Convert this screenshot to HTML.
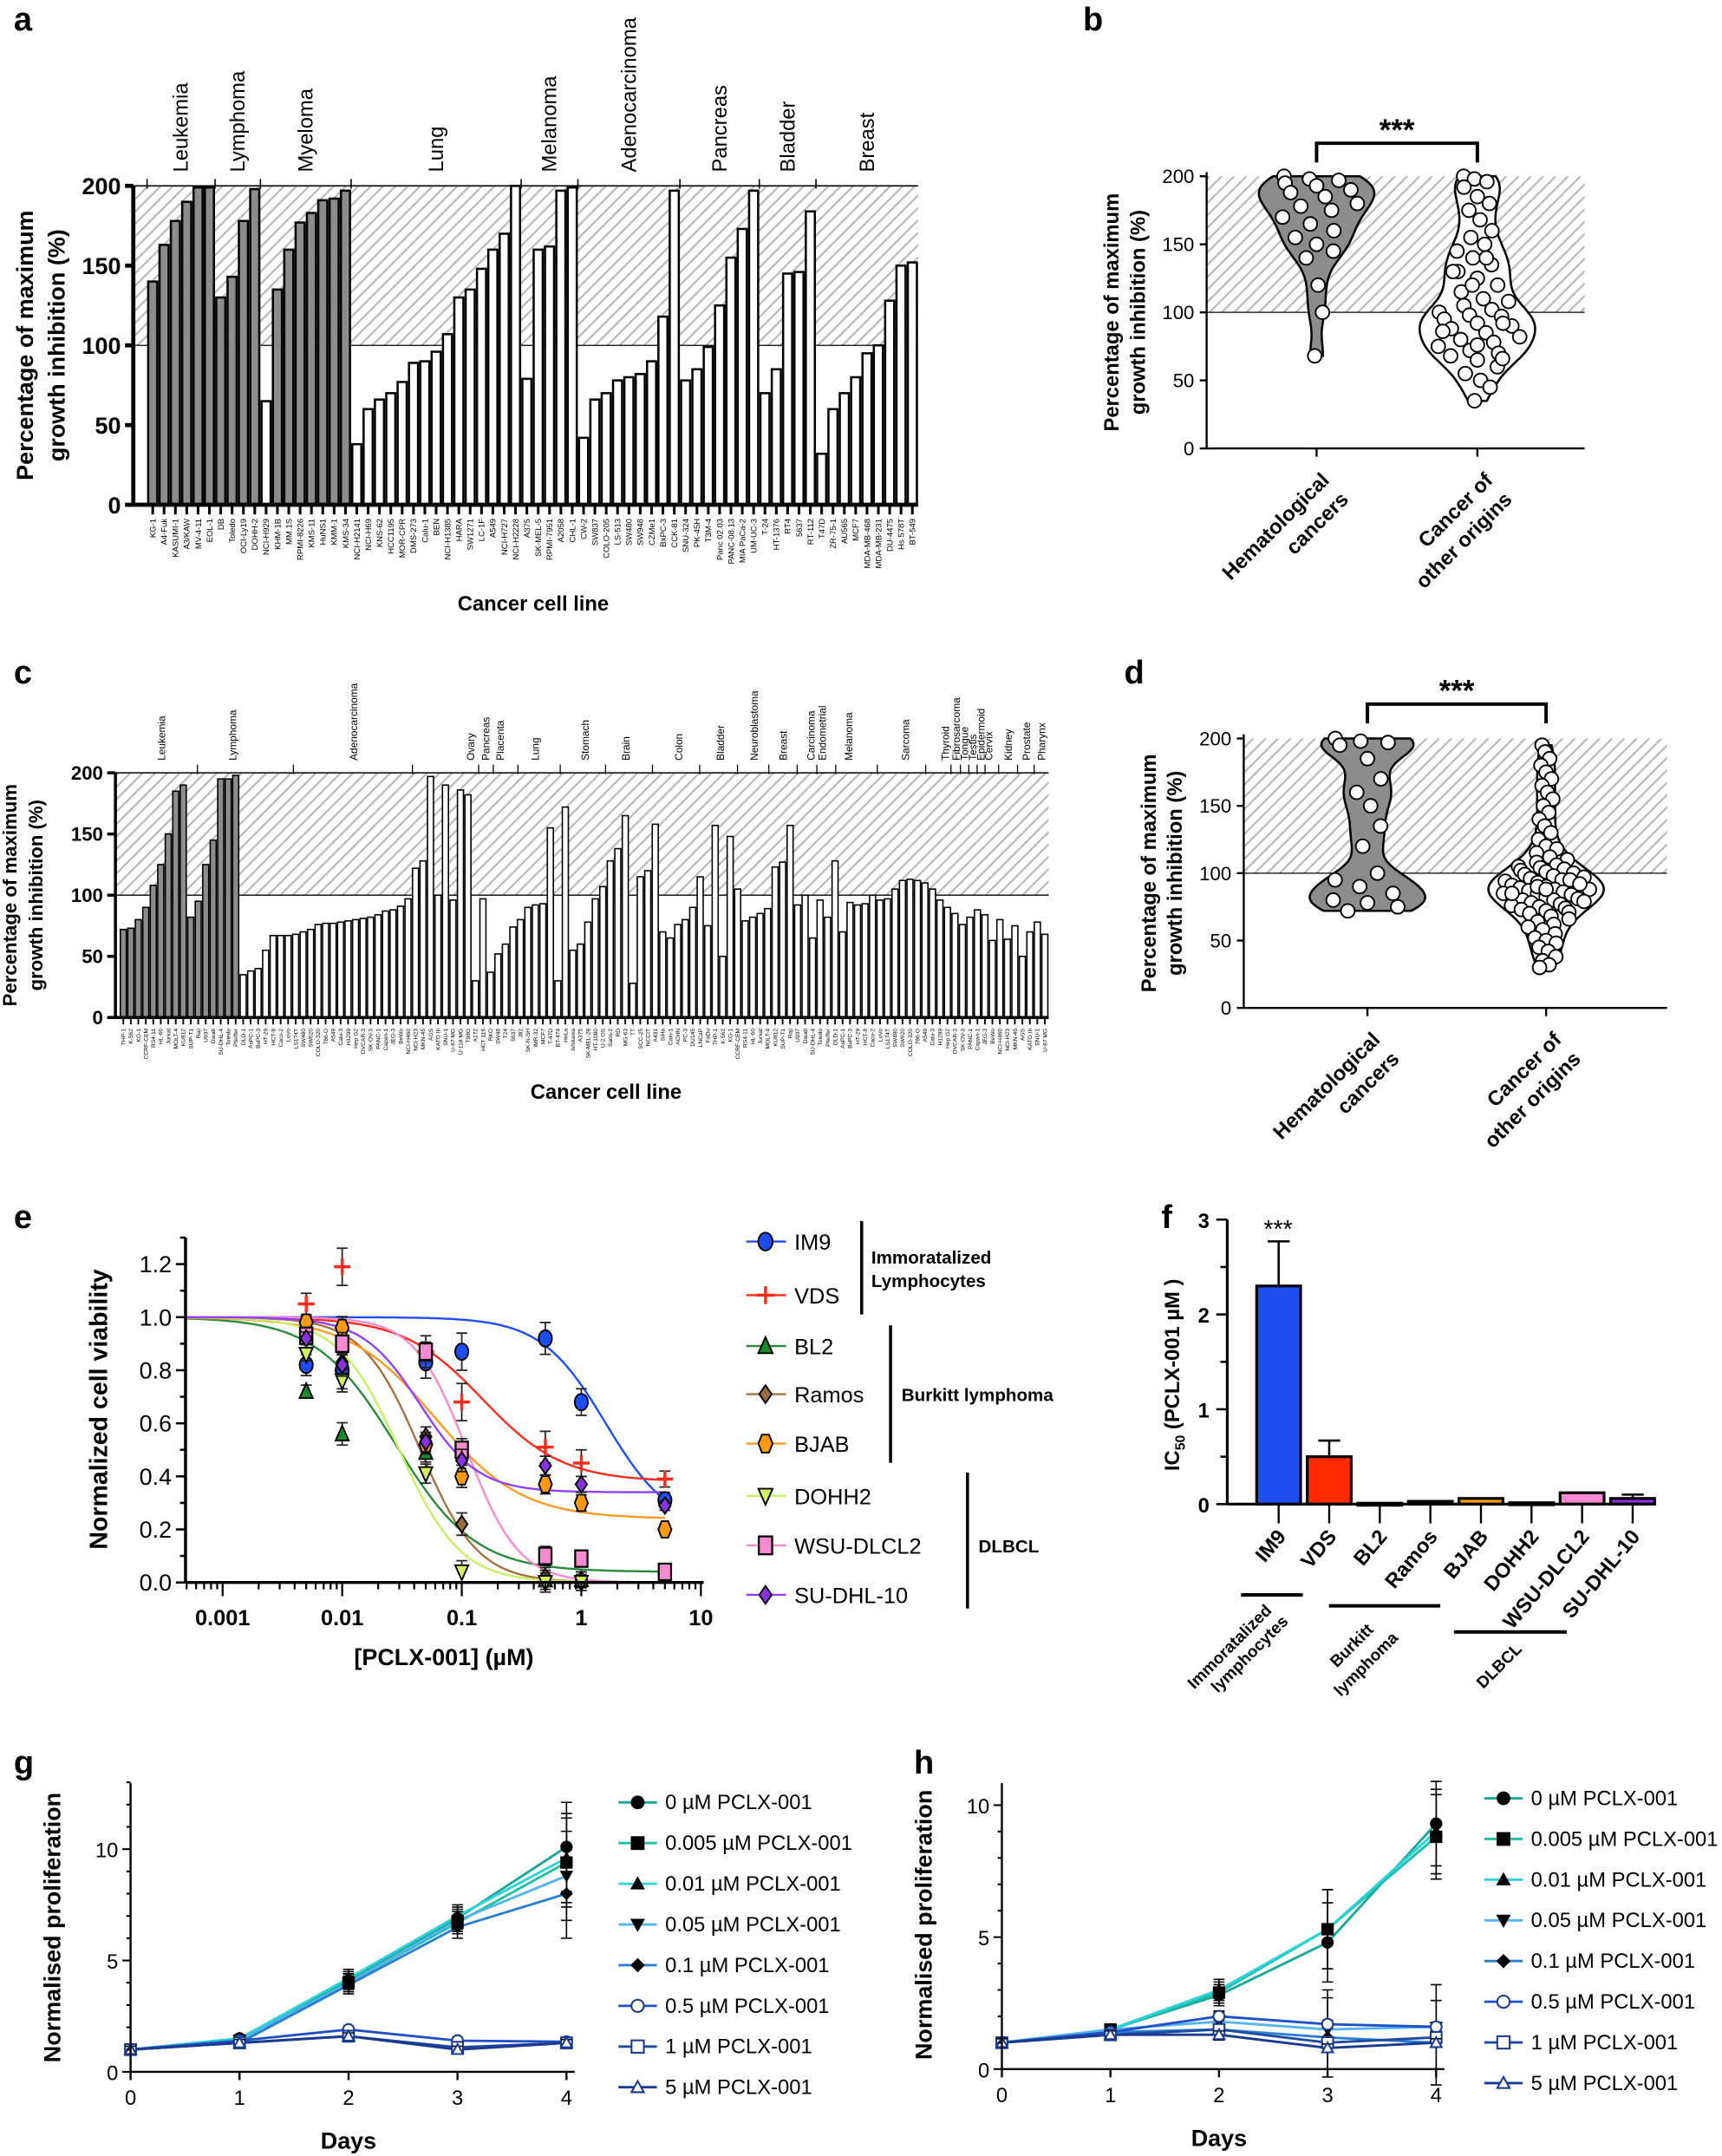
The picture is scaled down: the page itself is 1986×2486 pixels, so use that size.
<!DOCTYPE html>
<html><head><meta charset="utf-8"><style>
html,body{margin:0;padding:0;background:#fff}
svg{display:block}
text{font-family:"Liberation Sans",Arial,sans-serif;fill:#000}
</style></head><body>
<svg id="fig" xmlns="http://www.w3.org/2000/svg" width="1986" height="2486" viewBox="0 0 1253 1568">
<defs><pattern id="hatch" patternUnits="userSpaceOnUse" width="9" height="9"><path d="M-1,10 L10,-1 M-2,2 L2,-2 M7,11 L11,7" stroke="#b5b5b5" stroke-width="1.3"/></pattern></defs>
</svg>
<script>
// ---------- Panel a data ----------
const aValues=[140,163,178,190,199,199,130,143,178,198,65,135,160,177,183,191,192,197,
38,60,66,70,77,89,90,96,107,130,135,148,160,170,200,
79,160,162,197,199,
42,66,70,78,80,82,90,118,197,
78,85,99,125,155,173,197,
70,85,145,146,184,
32,60,70,80,95,100,128,150,152];
const aHema=[1,1,1,1,1,1,1,1,1,1,0,1,1,1,1,1,1,1];
const aNames=["KG-1","A4-Fuk","KASUMI-1","A3/KAW","MV-4-11","EOL-1","DB","Toledo","OCI-Ly19","DOHH-2","NCI-H929","KHM-1B","MM.1S","RPMI-8226","KMS-11","HuNS1","KMM-1","KMS-34","NCI-H2141","NCI-H69","KNS-62","HCC1195","MOR-CPR","DMS-273","Calu-1","BEN","NCI-H1385","HARA","SW1271","LC-1F","A549","NCI-H727","NCI-H2228","A375","SK-MEL-5","RPMI-7951","A2058","CHL-1","CW-2","SW837","COLO-205","LS-513","SW480","SW948","CZMe1","BxPC-3","CCK-81","SNU-324","PK-45H","T3M-4","Panc 02.03","PANC-08.13","MIA PaCa-2","UM-UC-3","T-24","HT-1376","RT4","5637","RT-112","T47D","ZR-75-1","AU565","MCF7","MDA-MB-468","MDA-MB-231","DU-4475","Hs 578T","BT-549"];
const aGroups=["Leukemia","Lymphoma","Myeloma","Lung","Melanoma","Adenocarcinoma","Pancreas","Bladder","Breast"];
const aGroupSizes=[6,4,8,15,5,9,7,5,9];
// ---------- Panel b data ----------
const bHema=[200,198,197,195,193,190,188,185,180,178,175,170,165,160,155,150,145,140,120,100,68];
const bOther=[200,198,196,192,185,180,175,168,160,155,150,145,140,135,130,125,120,115,110,108,105,102,100,98,97,95,92,90,88,85,82,80,78,75,72,70,68,65,60,55,50,45,35,140,130,120,92,86,76,66];
// ---------- Panel c data ----------
const cValues=[72,73,80,90,108,125,150,185,190,82,95,125,145,195,195,198,
35,38,40,55,67,67,67,68,70,72,76,77,77,78,79,80,81,82,84,87,88,91,97,122,128,197,100,190,96,186,182,30,97,37,52,60,74,80,90,92,93,155,30,172,55,60,78,97,107,128,138,165,28,115,120,158,70,65,76,80,90,115,75,157,50,148,105,79,82,85,89,123,127,157,92,100,65,96,82,128,70,94,92,93,100,96,97,105,112,113,112,110,105,96,90,85,76,82,88,84,63,80,64,75,50,70,78,68];
const cHemaCount=16;
const cGroups=["Leukemia","Lymphoma","Adenocarcinoma","Ovary","Pancreas","Placenta","Lung","Stomach","Brain","Colon","Bladder","Neuroblastoma","Breast","Carcinoma","Endometrial","Melanoma","Sarcoma","Thyroid","Fibrosarcoma","Tongue","Testis","Epidermoid","Cervix","Kidney","Prostate","Pharynx"];
const cGroupCenter=[5.6,15,31,46.5,48.5,50.4,55,61.6,67,74,79.5,84,87.8,91.5,93,96.5,104,109.3,110.7,111.8,112.9,114,115,117.6,120,122];
// ---------- Panel d data ----------
const dHema=[200,198,197,195,185,170,160,150,135,120,100,95,90,85,80,78,75,72];
const dOther=[195,190,185,180,175,170,165,160,155,150,145,140,135,130,125,120,118,115,112,110,108,106,105,104,103,102,101,100,99,98,97,96,95,94,93,92,91,90,90,89,88,88,87,86,85,85,84,83,82,81,80,80,79,78,77,76,75,74,73,72,71,70,68,66,64,62,60,58,55,52,50,48,45,42,38,35,32,30,90,95,85,88,92];
// ---------- Panel e data ----------
const eDoses=[0.005,0.01,0.05,0.1,0.5,1,5];
const eNames=["IM9","VDS","BL2","Ramos","BJAB","DOHH2","WSU-DLCL2","SU-DHL-10"];
const eIM9=[0.82,0.80,0.83,0.87,0.92,0.68,0.31];
const eVDS=[1.05,1.19,0.87,0.68,0.51,0.45,0.39];
const eBL2=[0.72,0.56,0.49,null,0.01,0.01,null];
const eRamos=[0.93,0.83,0.55,0.22,0.02,0.01,null];
const eBJAB=[0.98,0.96,0.52,0.40,0.37,0.30,0.20];
const eDOHH2=[0.86,0.76,0.41,0.04,0.0,0.0,null];
const eWSU=[0.93,0.90,0.87,0.50,0.10,0.09,0.04];
const eSUDHL=[0.92,0.82,0.53,0.46,0.44,0.37,0.29];
const eErr=[0.04,0.07,0.06,0.07,0.06,0.05,0.03];
const eIC50=[1.6,0.15,0.028,0.045,0.06,0.03,0.11,0.045];
const eBottom=[0.2,0.38,0.04,0,0.24,0,0,0.34];
const eHill=[1.6,1.3,1.3,1.8,1.2,1.7,2.0,1.8];
// ---------- Panel f data ----------
const fNames=["IM9","VDS","BL2","Ramos","BJAB","DOHH2","WSU-DLCL2","SU-DHL-10"];
const fValues=[2.3,0.5,0.01,0.03,0.06,0.015,0.12,0.06];
const fErrors=[0.47,0.17,0.005,0.01,0.02,0.005,0.02,0.04];
// ---------- Panel g/h data ----------
const days=[0,1,2,3,4];
const doseLabels=["0 µM PCLX-001","0.005 µM PCLX-001","0.01 µM PCLX-001","0.05 µM PCLX-001","0.1 µM PCLX-001","0.5 µM PCLX-001","1 µM PCLX-001","5 µM PCLX-001"];
const g0=[1,1.5,4.1,6.9,10.1],g1=[1,1.4,4.0,6.7,9.4],g2=[1,1.5,4.2,7.0,9.6],g3=[1,1.4,4.0,6.8,8.8],g4=[1,1.3,3.9,6.5,8.0],g5=[1,1.4,1.9,1.4,1.35],g6=[1,1.3,1.6,1.1,1.3],g7=[1,1.3,1.6,1.0,1.3];
const gErr=[0,0.15,0.4,0.5,2.0];
const h0=[1,1.5,2.8,4.8,9.3],h1=[1,1.5,2.9,5.3,8.8],h2=[1,1.5,3.0,5.3,9.0],h3=[1,1.5,1.8,1.5,1.6],h4=[1,1.4,1.5,1.2,1.0],h5=[1,1.4,2.0,1.7,1.6],h6=[1,1.3,1.5,1.0,1.2],h7=[1,1.3,1.3,0.8,1.0];
const hErr=[0,0.15,0.4,1.5,1.6];

const NS='http://www.w3.org/2000/svg';
const svg=document.getElementById('fig');
function el(tag,a,p){const e=document.createElementNS(NS,tag);for(const k in a)e.setAttribute(k,a[k]);(p||svg).appendChild(e);return e;}
function txt(s,x,y,a,p){const t=el('text',Object.assign({x:x,y:y},a||{}),p);t.textContent=s;return t;}
function grp(name){const g=el('g',{});return g;}

[["a",10,22],["b",788,22],["c",10,497],["d",818,497],["e",10,893],["f",845,893],["g",10,1290],["h",665,1290]].forEach(function(L){
 const t=txt(L[0],L[1],L[2],{'font-size':24,'font-weight':'bold'});
 
 
});

function barPanel(name,vals,isHema,names,cfg){
 const g=grp(name);
 const n=vals.length, slot=(cfg.x1-cfg.x0)/n;
 const ys=function(v){return cfg.y0-(cfg.y0-cfg.y200)*v/200;};
 el('rect',{x:cfg.ax,y:ys(200),width:cfg.x1-cfg.ax,height:ys(100)-ys(200),fill:'url(#hatch)'},g);
 el('line',{x1:cfg.ax,x2:cfg.x1,y1:ys(200),y2:ys(200),stroke:'#000','stroke-width':1},g);
 el('line',{x1:cfg.ax,x2:cfg.x1,y1:ys(100),y2:ys(100),stroke:'#000','stroke-width':0.8},g);
 for(let i=0;i<n;i++){
  const x=cfg.x0+i*slot;
  const r=el('rect',{x:x+slot*0.1,y:ys(vals[i]),width:slot*0.8,height:cfg.y0-ys(vals[i]),fill:isHema(i)?'#8c8c8c':'#fff',stroke:'#000','stroke-width':cfg.sw},g);
  
  
  el('line',{x1:x+slot/2,x2:x+slot/2,y1:cfg.y0,y2:cfg.y0+cfg.tick,stroke:'#000','stroke-width':cfg.sw*1.2},g);
  const t=txt(names[i]||'',0,0,{'font-size':cfg.nfs,'text-anchor':'end',transform:'translate('+(x+slot/2+cfg.nfs*0.35)+','+(cfg.y0+cfg.tick+3)+') rotate(-90)'},g);
  
  
 }
 el('line',{x1:cfg.ax,x2:cfg.x1,y1:cfg.y0,y2:cfg.y0,stroke:'#000','stroke-width':cfg.axw},g);
 el('line',{x1:cfg.ax,x2:cfg.ax,y1:cfg.y0,y2:ys(200),stroke:'#000','stroke-width':cfg.axw},g);
 [0,50,100,150,200].forEach(function(v){
  el('line',{x1:cfg.ax-6,x2:cfg.ax,y1:ys(v),y2:ys(v),stroke:'#000','stroke-width':cfg.axw},g);
  const t=txt(String(v),cfg.ax-9,ys(v)+cfg.tfs*0.36,{'font-size':cfg.tfs,'text-anchor':'end','font-weight':'bold'},g);
  
  
 });
 return {g:g,slot:slot,ys:ys};
}

(function(){
 const names=[];for(let i=0;i<aValues.length;i++)names.push(aNames[i]||('Line-'+i));
 const P=barPanel('panel-a-bar-chart',aValues,function(i){return i<aHema.length&&aHema[i]===1;},names,{x0:107,x1:668,ax:97,y0:367,y200:135,sw:1.6,axw:3,tick:7,nfs:6,tfs:17});
 let idx=0;
 aGroups.forEach(function(gname,k){
  const xs=107+idx*P.slot;
  el('line',{x1:xs,x2:xs,y1:130,y2:137,stroke:'#000','stroke-width':1},P.g);
  const cx=xs+aGroupSizes[k]*P.slot/2;
  const t=txt(gname,0,0,{'font-size':15,transform:'translate('+(cx+5)+',125) rotate(-90)'},P.g);
  
  
  idx+=aGroupSizes[k];
 });
 const t1=txt('Percentage of maximum',0,0,{'font-size':17,'font-weight':'bold','text-anchor':'middle',transform:'translate(24,251) rotate(-90)'},P.g);
 
 
 txt('growth inhibition (%)',0,0,{'font-size':17,'font-weight':'bold','text-anchor':'middle',transform:'translate(47,251) rotate(-90)'},P.g);
 const t2=txt('Cancer cell line',388,444,{'font-size':15,'font-weight':'bold','text-anchor':'middle'},P.g);
 
 
})();

(function(){
 const names=[];const base=["THP-1","K-562","KG-1","CCRF-CEM","RS4-11","HL-60","Jurkat","MOLT-4","KU812","SUP-T1","Raji","U937","Daudi","SU-DHL-4","Toledo","Pfeiffer","DLD-1","AsPC-1","BxPC-3","HT-29","HCT-8","Caco-2","LoVo","LS174T","SW480","SW620","COLO-320","786-O","A549","Calu-3","H1299","Hep G2","OVCAR-3","SK-OV-3","PANC-1","Capan-1","JEG-3","BeWo","NCI-H460","NCI-H23","MKN-45","AGS","KATO III","SNU-1","U-87 MG","U-118 MG","T98G","A172","HCT 116","RKO","SW48","T24","5637","J82","SK-N-SH","IMR-32","MCF7","T-47D","BT-474","HeLa","Ishikawa","A375","SK-MEL-28","HT-1080","U-2 OS","Saos-2","RD","MG-63","TT","SCC-25","NCCIT","A431","SiHa","Caki-1","ACHN","PC-3","DU145","LNCaP","FaDu"];
 for(let i=0;i<cValues.length;i++)names.push(base[i%base.length]);
 const P=barPanel('panel-c-bar-chart',cValues,function(i){return i<cHemaCount;},names,{x0:87,x1:763,ax:84,y0:740,y200:562,sw:1,axw:2.2,tick:5,nfs:4.2,tfs:14});
 const slot=5.5;
 cGroups.forEach(function(gname,k){
  const cx=87+cGroupCenter[k]*slot;
  if(k>0){const sx=87+(cGroupCenter[k]+cGroupCenter[k-1])/2*slot;el('line',{x1:sx,x2:sx,y1:556,y2:563,stroke:'#000','stroke-width':0.8},P.g);}
  const t=txt(gname,0,0,{'font-size':7.5,transform:'translate('+(cx+2.5)+',553) rotate(-90)'},P.g);
  
  
 });
 const t1=txt('Percentage of maximum',0,0,{'font-size':14,'font-weight':'bold','text-anchor':'middle',transform:'translate(12,651) rotate(-90)'},P.g);
 
 
 txt('growth inhibition (%)',0,0,{'font-size':14,'font-weight':'bold','text-anchor':'middle',transform:'translate(31,651) rotate(-90)'},P.g);
 const t2=txt('Cancer cell line',441,799,{'font-size':15,'font-weight':'bold','text-anchor':'middle'},P.g);
 
 
})();

function violin(name,hema,other,cfg){
 const g=grp(name);
 const ys=function(v){return cfg.y0-(cfg.y0-cfg.y200)*v/200;};
 el('rect',{x:cfg.ax,y:ys(200),width:cfg.x1-cfg.ax,height:ys(100)-ys(200),fill:'url(#hatch)'},g);
 el('line',{x1:cfg.ax,x2:cfg.x1,y1:ys(100),y2:ys(100),stroke:'#000','stroke-width':0.8},g);
 [[hema,cfg.c1,'#8c8c8c','hematological',cfg.bw],[other,cfg.c2,'#fff','other-origins',cfg.bw2]].forEach(function(S){
  const d=S[0],cx=S[1];
  const mn=Math.min.apply(null,d),mx=Math.max.apply(null,d);
  const bw=S[4];
  function dens(y){let s=0;d.forEach(function(v){s+=Math.exp(-(v-y)*(v-y)/(2*bw*bw));});return s;}
  let md=0;for(let y=mn;y<=mx;y+=1)md=Math.max(md,dens(y));
  const wAt=function(y){return dens(y)/md*cfg.W;};
  let L=[],R=[];
  for(let y=mn;y<=mx+0.01;y+=1){const w=wAt(y);L.push((cx-w).toFixed(1)+','+ys(y).toFixed(1));R.unshift((cx+w).toFixed(1)+','+ys(y).toFixed(1));}
  const p=el('polygon',{points:L.concat(R).join(' '),fill:S[2],stroke:'#000','stroke-width':1.6},g);
  
  
  d.forEach(function(v,i){
   const w=wAt(v)*0.75;
   const off=(((i*37)%11)-5)/5*w;
   const c=el('circle',{cx:cx+off,cy:ys(v),r:cfg.r,fill:'#fff',stroke:'#000','stroke-width':1.2},g);
   
   
  });
 });
 el('line',{x1:cfg.ax,x2:cfg.ax,y1:cfg.y0,y2:ys(200)-3,stroke:'#000','stroke-width':1.5},g);
 el('line',{x1:cfg.ax,x2:cfg.x1,y1:cfg.y0,y2:cfg.y0,stroke:'#000','stroke-width':1.5},g);
 [0,50,100,150,200].forEach(function(v){
  el('line',{x1:cfg.ax-5,x2:cfg.ax,y1:ys(v),y2:ys(v),stroke:'#000','stroke-width':1.5},g);
  txt(String(v),cfg.ax-9,ys(v)+5,{'font-size':14,'text-anchor':'end'},g);
 });
 [cfg.c1,cfg.c2].forEach(function(cx){el('line',{x1:cx,x2:cx,y1:cfg.y0,y2:cfg.y0+6,stroke:'#000','stroke-width':1.5},g);});
 el('path',{d:'M'+cfg.c1+','+(cfg.by+14)+' V'+cfg.by+' H'+cfg.c2+' V'+(cfg.by+14),fill:'none',stroke:'#000','stroke-width':2.5},g);
 const s=txt('***',(cfg.c1+cfg.c2)/2,cfg.by-2,{'font-size':22,'font-weight':'bold','text-anchor':'middle'},g);
 
 
 const yt=txt('Percentage of maximum',0,0,{'font-size':15,'font-weight':'bold','text-anchor':'middle',transform:'translate('+(cfg.ax-64)+','+ys(100)+') rotate(-90)'},g);
 
 
 txt('growth inhibition (%)',0,0,{'font-size':15,'font-weight':'bold','text-anchor':'middle',transform:'translate('+(cfg.ax-45)+','+ys(100)+') rotate(-90)'},g);
 const l1=txt('Hematological',0,0,{'font-size':15,'font-weight':'bold','text-anchor':'end',transform:'translate('+(cfg.c1+10)+','+(cfg.y0+24)+') rotate(-45)'},g);
 
 
 txt('cancers',0,0,{'font-size':15,'font-weight':'bold','text-anchor':'end',transform:'translate('+(cfg.c1+24)+','+(cfg.y0+38)+') rotate(-45)'},g);
 const l2=txt('Cancer of',0,0,{'font-size':15,'font-weight':'bold','text-anchor':'end',transform:'translate('+(cfg.c2+12)+','+(cfg.y0+24)+') rotate(-45)'},g);
 
 
 txt('other origins',0,0,{'font-size':15,'font-weight':'bold','text-anchor':'end',transform:'translate('+(cfg.c2+26)+','+(cfg.y0+38)+') rotate(-45)'},g);
}
violin('panel-b-violin',bHema,bOther,{ax:878,x1:1153,y0:326,y200:128,c1:958,c2:1075,W:42,bw:12,bw2:10,r:5,by:104});
violin('panel-d-violin',dHema,dOther,{ax:905,x1:1213,y0:733,y200:537,c1:995,c2:1125,W:42,bw:10,bw2:10,r:5,by:512});

(function(){
 const g=grp('panel-e-dose-response');
 const xs=function(v){return 162+87*Math.log10(v/0.001);};
 const ys=function(v){return 1151-(1151-958)*v;};
 const series=[eIM9,eVDS,eBL2,eRamos,eBJAB,eDOHH2,eWSU,eSUDHL];
 const cols=['#1f4ef0','#ff2a1a','#1a8a2a','#9a6a3a','#ff9a10','#d4f060','#f58ad0','#8a30e0'];
 const lcols=['#1f4ef0','#ff2a1a','#2a8a3a','#a87040','#ff9a20','#c8f060','#ff8acb','#9040ff'];
 const shapes=['circle','plus','tri','diamond','hex','tridown','square','diamond'];
 function marker(shape,x,y,col,s,parent){
  let m;
  if(shape==='circle')m=el('ellipse',{cx:x,cy:y,rx:s*0.8,ry:s,fill:col,stroke:'#000','stroke-width':1.2},parent);
  else if(shape==='plus')m=el('path',{d:'M'+(x-s)+','+y+'H'+(x+s)+'M'+x+','+(y-s)+'V'+(y+s),stroke:col,'stroke-width':2.2},parent);
  else if(shape==='tri')m=el('polygon',{points:x+','+(y-s)+' '+(x+s*0.8)+','+(y+s*0.8)+' '+(x-s*0.8)+','+(y+s*0.8),fill:col,stroke:'#000','stroke-width':1.2},parent);
  else if(shape==='tridown')m=el('polygon',{points:x+','+(y+s)+' '+(x+s*0.8)+','+(y-s*0.8)+' '+(x-s*0.8)+','+(y-s*0.8),fill:col,stroke:'#000','stroke-width':1.2},parent);
  else if(shape==='diamond')m=el('polygon',{points:x+','+(y-s)+' '+(x+s*0.7)+','+y+' '+x+','+(y+s)+' '+(x-s*0.7)+','+y,fill:col,stroke:'#000','stroke-width':1.2},parent);
  else if(shape==='hex')m=el('polygon',{points:(x-s*0.4)+','+(y-s)+' '+(x+s*0.4)+','+(y-s)+' '+(x+s*0.8)+','+y+' '+(x+s*0.4)+','+(y+s)+' '+(x-s*0.4)+','+(y+s)+' '+(x-s*0.8)+','+y,fill:col,stroke:'#000','stroke-width':1.2},parent);
  else m=el('rect',{x:x-s*0.75,y:y-s,width:s*1.5,height:s*2,fill:col,stroke:'#000','stroke-width':1.4},parent);
  return m;
 }
 series.forEach(function(ser,k){
  let pts=[];
  for(let lx=Math.log10(0.0005);lx<=Math.log10(5)+0.001;lx+=0.02){
   const x=Math.pow(10,lx);
   const y=eBottom[k]+(1-eBottom[k])/(1+Math.pow(x/eIC50[k],eHill[k]));
   pts.push(xs(x).toFixed(1)+','+ys(y).toFixed(1));
  }
  const c=el('polyline',{points:pts.join(' '),fill:'none',stroke:lcols[k],'stroke-width':1.5},g);
  
  
 });
 series.forEach(function(ser,k){
  ser.forEach(function(v,i){
   if(v===null)return;
   const x=xs(eDoses[i]),y=ys(v),e=(eErr[i]*(k<2?1:0.6))*193;
   el('path',{d:'M'+x+','+(y-e)+'V'+(y+e)+'M'+(x-4)+','+(y-e)+'H'+(x+4)+'M'+(x-4)+','+(y+e)+'H'+(x+4),stroke:'#222','stroke-width':1.1},g);
   const m=marker(shapes[k],x,y,cols[k],6,g);
   
   
  });
 });
 el('line',{x1:135,x2:512,y1:1151,y2:1151,stroke:'#000','stroke-width':2.2},g);
 el('line',{x1:135,x2:135,y1:1151,y2:900,stroke:'#000','stroke-width':2.2},g);
 for(let v=0;v<=1.3;v+=0.1){const y=ys(v);const major=Math.round(v*10)%2===0;el('line',{x1:major?128:131,x2:135,y1:y,y2:y,stroke:'#000','stroke-width':1.6},g);
  if(major&&v<1.25){const t=txt(v.toFixed(1),125,y+6,{'font-size':17,'text-anchor':'end'},g);}}
 for(let d=-4;d<=0;d++){for(let m=1;m<10;m++){const v=m*Math.pow(10,d);if(v<0.0005||v>10)continue;const x=xs(v);el('line',{x1:x,x2:x,y1:1151,y2:1151+(m===1?10:5),stroke:'#000','stroke-width':1.4},g);}}
 const xx=xs(10);el('line',{x1:xx,x2:xx,y1:1151,y2:1161,stroke:'#000','stroke-width':1.4},g);
 ["0.001","0.01","0.1","1","10"].forEach(function(s){const t=txt(s,xs(parseFloat(s)),1182,{'font-size':16,'font-weight':'bold','text-anchor':'middle'},g);});
 const xt=txt('[PCLX-001] (µM)',323,1211,{'font-size':17,'font-weight':'bold','text-anchor':'middle'},g);
 
 
 const yt=txt('Normalized cell viability',0,0,{'font-size':18,'font-weight':'bold','text-anchor':'middle',transform:'translate(78,1025) rotate(-90)'},g);
 
 
 const ly=[903,942,979,1014,1050,1088,1124,1160];
 eNames.forEach(function(nm,k){
  const lg=el('g',{},g);
  
  
  el('line',{x1:543,x2:572,y1:ly[k],y2:ly[k],stroke:lcols[k],'stroke-width':1.5},lg);
  marker(shapes[k],557,ly[k],cols[k],6.5,lg);
  txt(nm,578,ly[k]+6,{'font-size':16},lg);
 });
 el('line',{x1:627,x2:627,y1:888,y2:956,stroke:'#000','stroke-width':2.2},g);
 txt('Immoratalized',634,919,{'font-size':13,'font-weight':'bold'},g);
 txt('Lymphocytes',634,936,{'font-size':13,'font-weight':'bold'},g);
 el('line',{x1:648,x2:648,y1:964,y2:1064,stroke:'#000','stroke-width':2.2},g);
 txt('Burkitt lymphoma',656,1019,{'font-size':13,'font-weight':'bold'},g);
 el('line',{x1:704,x2:704,y1:1071,y2:1170,stroke:'#000','stroke-width':2.2},g);
 txt('DLBCL',712,1129,{'font-size':13,'font-weight':'bold'},g);
})();

(function(){
 const g=grp('panel-f-ic50-bars');
 const ys=function(v){return 1094-69*v;};
 const x0=912,slot=36.8;
 const cols=['#1f4ef0','#ff2a00','#1a8a2a','#9a6a3a','#ff9a10','#d4f060','#f58ad0','#8a30e0'];
 fValues.forEach(function(v,i){
  const cx=x0+slot*(i+0.5);
  if(fErrors[i]>0.03)el('path',{d:'M'+cx+','+ys(v)+'V'+ys(v+fErrors[i])+'M'+(cx-8)+','+ys(v+fErrors[i])+'H'+(cx+8),stroke:'#000','stroke-width':1.6,fill:'none'},g);
  const r=el('rect',{x:cx-16,y:ys(v),width:32,height:Math.max(1.5,1094-ys(v)),fill:cols[i],stroke:'#000','stroke-width':2},g);
  
  
  el('line',{x1:cx,x2:cx,y1:1094,y2:1108,stroke:'#000','stroke-width':1.5},g);
  const t=txt(fNames[i],0,0,{'font-size':15,'font-weight':'bold','text-anchor':'end',transform:'translate('+(cx+6)+',1118) rotate(-50)'},g);
  
  
 });
 el('line',{x1:893,x2:1195,y1:1094,y2:1094,stroke:'#000','stroke-width':2},g);
 el('line',{x1:893,x2:893,y1:1094,y2:887,stroke:'#000','stroke-width':2},g);
 for(let v=0;v<=3;v+=0.5){el('line',{x1:v%1===0?885:888,x2:893,y1:ys(v),y2:ys(v),stroke:'#000','stroke-width':1.6},g);
  if(v%1===0)txt(String(v),880,ys(v)+6,{'font-size':15,'font-weight':'bold','text-anchor':'end'},g);}
 const st=txt('***',930,900,{'font-size':18,'text-anchor':'middle'},g);
 
 
 const yt=el('text',{transform:'translate(858,1000) rotate(-90)','font-size':15,'font-weight':'bold','text-anchor':'middle'},g);
 yt.innerHTML='IC<tspan font-size="10" dy="4">50</tspan><tspan dy="-4"> (PCLX-001 µM )</tspan>';
 
 
 el('line',{x1:903,x2:948,y1:1160,y2:1160,stroke:'#000','stroke-width':2.5},g);
 el('line',{x1:967,x2:1048,y1:1168,y2:1168,stroke:'#000','stroke-width':2.5},g);
 el('line',{x1:1058,x2:1140,y1:1187,y2:1187,stroke:'#000','stroke-width':2.5},g);
 txt('Immoratalized',0,0,{'font-size':12,'font-weight':'bold','text-anchor':'end',transform:'translate(926,1172) rotate(-45)'},g);
 txt('lymphocytes',0,0,{'font-size':12,'font-weight':'bold','text-anchor':'end',transform:'translate(938,1180) rotate(-45)'},g);
 txt('Burkitt',0,0,{'font-size':12,'font-weight':'bold','text-anchor':'end',transform:'translate(1000,1186) rotate(-45)'},g);
 txt('lymphoma',0,0,{'font-size':12,'font-weight':'bold','text-anchor':'end',transform:'translate(1018,1192) rotate(-45)'},g);
 txt('DLBCL',0,0,{'font-size':12,'font-weight':'bold','text-anchor':'end',transform:'translate(1108,1200) rotate(-45)'},g);
})();

const ghCols=['#1aa898','#1fbfa8','#2ad4d8','#55b4ee','#2c7fd0','#2050c8','#1e4aa0','#1a3a90'];
const ghShapes=['circle','square','tri','tridown','diamond','ocircle','osquare','otri'];
function ghMarker(shape,x,y,col,s,parent){
 const st={stroke:'#000','stroke-width':1};
 let m;
 if(shape==='circle')m=el('circle',Object.assign({cx:x,cy:y,r:s,fill:'#000'},st),parent);
 else if(shape==='square')m=el('rect',Object.assign({x:x-s,y:y-s,width:2*s,height:2*s,fill:'#000'},st),parent);
 else if(shape==='tri')m=el('polygon',Object.assign({points:x+','+(y-s)+' '+(x+s)+','+(y+s*0.8)+' '+(x-s)+','+(y+s*0.8),fill:'#000'},st),parent);
 else if(shape==='tridown')m=el('polygon',Object.assign({points:x+','+(y+s)+' '+(x+s)+','+(y-s*0.8)+' '+(x-s)+','+(y-s*0.8),fill:'#000'},st),parent);
 else if(shape==='diamond')m=el('polygon',Object.assign({points:x+','+(y-s)+' '+(x+s)+','+y+' '+x+','+(y+s)+' '+(x-s)+','+y,fill:'#000'},st),parent);
 else if(shape==='ocircle')m=el('circle',{cx:x,cy:y,r:s,fill:'#fff',stroke:'#1a3a90','stroke-width':1.3},parent);
 else if(shape==='osquare')m=el('rect',{x:x-s,y:y-s,width:2*s,height:2*s,fill:'#fff',stroke:'#1a3a90','stroke-width':1.3},parent);
 else m=el('polygon',{points:x+','+(y-s)+' '+(x+s)+','+(y+s*0.8)+' '+(x-s)+','+(y+s*0.8),fill:'#fff',stroke:'#1a3a90','stroke-width':1.3},parent);
 return m;
}
function prolifPanel(name,series,err,cfg){
 const g=grp(name);
 const xs=function(d){return cfg.ax+cfg.dx*d;};
 const ys=function(v){return cfg.y0-cfg.dy*v;};
 series.forEach(function(ser,k){
  const pts=ser.map(function(v,i){return xs(days[i])+','+ys(v);}).join(' ');
  const l=el('polyline',{points:pts,fill:'none',stroke:ghCols[k],'stroke-width':1.8},g);
  
  
 });
 series.forEach(function(ser,k){
  ser.forEach(function(v,i){
   const x=xs(days[i]),y=ys(v);
   const e=k<5?err[i]*cfg.dy:0.15*cfg.dy;
   if(e>0)el('path',{d:'M'+x+','+(y-e)+'V'+(y+e)+'M'+(x-4)+','+(y-e)+'H'+(x+4)+'M'+(x-4)+','+(y+e)+'H'+(x+4),stroke:'#000','stroke-width':1},g);
   const m=ghMarker(ghShapes[k],x,y,ghCols[k],4,g);
   
   
  });
 });
 el('line',{x1:cfg.ax,x2:cfg.ax+cfg.dx*4+6,y1:cfg.y0,y2:cfg.y0,stroke:'#000','stroke-width':1.5},g);
 el('line',{x1:cfg.ax,x2:cfg.ax,y1:cfg.y0,y2:cfg.top,stroke:'#000','stroke-width':1.5},g);
 days.forEach(function(d){el('line',{x1:xs(d),x2:xs(d),y1:cfg.y0,y2:cfg.y0+6,stroke:'#000','stroke-width':1.5},g);
  const t=txt(String(d),xs(d),cfg.y0+24,{'font-size':15,'text-anchor':'middle'},g);});
 for(let v=0;v*cfg.dy<=cfg.y0-cfg.top+1;v+=1){const major=v%5===0;el('line',{x1:cfg.ax-(major?6:3),x2:cfg.ax,y1:ys(v),y2:ys(v),stroke:'#000','stroke-width':1.3},g);
  if(major){const t=txt(String(v),cfg.ax-9,ys(v)+6,{'font-size':15,'text-anchor':'end'},g);}}
 const xt=txt('Days',cfg.ax+cfg.dx*2,cfg.y0+56,{'font-size':17,'font-weight':'bold','text-anchor':'middle'},g);
 
 
 const yt=txt('Normalised proliferation',0,0,{'font-size':17,'font-weight':'bold','text-anchor':'middle',transform:'translate('+(cfg.ax-51)+','+(cfg.y0-105)+') rotate(-90)'},g);
 
 
 doseLabels.forEach(function(lbl,k){
  const y=cfg.ly+k*29.6;
  const lg=el('g',{},g);
  
  
  el('line',{x1:cfg.lx-14,x2:cfg.lx+14,y1:y,y2:y,stroke:ghCols[k],'stroke-width':1.8},lg);
  ghMarker(ghShapes[k],cfg.lx,y,ghCols[k],4.5,lg);
  txt(lbl,cfg.lx+20,y+5,{'font-size':15},lg);
 });
}
prolifPanel('panel-g-proliferation',[g0,g1,g2,g3,g4,g5,g6,g7],gErr,{ax:95,dx:79.3,y0:1507,dy:16.2,top:1297,lx:464,ly:1311});
prolifPanel('panel-h-proliferation',[h0,h1,h2,h3,h4,h5,h6,h7],hErr,{ax:729,dx:79,y0:1505,dy:19.2,top:1297,lx:1094,ly:1308});
</script>
</body></html>
